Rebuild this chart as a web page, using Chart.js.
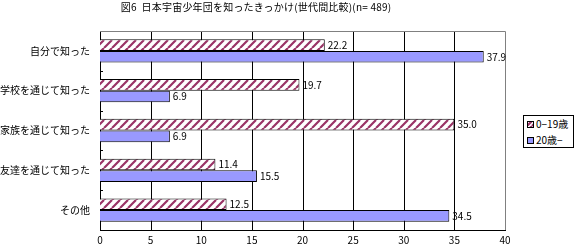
<!DOCTYPE html>
<html><head><meta charset="utf-8">
<script src="https://cdn.jsdelivr.net/npm/chart.js@4/dist/chart.umd.min.js"></script>
<style>
html,body{margin:0;padding:0;background:#fff;}
#wrap{position:relative;width:576px;height:250px;font-family:"Noto Sans CJK JP",sans-serif;}
#title{position:absolute;top:0px;left:0;width:512px;text-align:center;font-size:10px;line-height:14px;color:#000;letter-spacing:0.2px;}
#legend{position:absolute;left:523px;top:115px;width:49px;height:31px;border:1px solid #000;background:#fff;font-size:10px;color:#000;}
#legend div{position:absolute;left:3px;height:12px;line-height:12px;white-space:nowrap;}
#legend canvas{vertical-align:middle;margin-right:2px;position:relative;top:-1px;}
</style></head>
<body>
<div id="wrap">
<canvas id="c" width="576" height="250"></canvas>
<div id="title">図6&nbsp;&nbsp;日本宇宙少年団を知ったきっかけ(世代間比較)(n= 489)</div>
<div id="legend">
  <div style="top:2px"><canvas id="sw1" width="7" height="7"></canvas>0−19歳</div>
  <div style="top:18px"><canvas id="sw2" width="7" height="7"></canvas>20歳−</div>
</div>
</div>
<script>
const categories = ["自分で知った","学校を通じて知った","家族を通じて知った","友達を通じて知った","その他"];
const seriesNames = ["0−19歳","20歳−"];
const youth = [22.2, 19.7, 35.0, 11.4, 12.5];
const adult = [37.9, 6.9, 6.9, 15.5, 34.5];
const xTicks = [0,5,10,15,20,25,30,35,40];

function makeHatch(n){
  const p = document.createElement('canvas');
  p.width = n; p.height = n;
  const g = p.getContext('2d');
  g.fillStyle = '#fff'; g.fillRect(0,0,n,n);
  g.strokeStyle = '#993366'; g.lineWidth = 2.2;
  g.beginPath();
  for (let k=-n;k<=2*n;k+=n){ g.moveTo(k,n); g.lineTo(k+n,0); }
  g.stroke();
  return g.createPattern(p,'repeat');
}
const ctx = document.getElementById('c').getContext('2d');
const hatch = makeHatch(8);

(function(){
  const s1 = document.getElementById('sw1').getContext('2d');
  s1.fillStyle = makeHatch(5); s1.fillRect(0,0,7,7);
  s1.strokeStyle='#000'; s1.lineWidth=1; s1.strokeRect(0.5,0.5,6,6);
  const s2 = document.getElementById('sw2').getContext('2d');
  s2.fillStyle = '#9999FF'; s2.fillRect(0,0,7,7);
  s2.strokeStyle='#000'; s2.lineWidth=1; s2.strokeRect(0.5,0.5,6,6);
})();

const extras = {
  id:'extras',
  beforeDatasetsDraw(chart){
    const a = chart.chartArea, c = chart.ctx, x = chart.scales.x;
    c.save();
    c.strokeStyle = '#000'; c.lineWidth = 1;
    c.beginPath();
    xTicks.forEach(v => {
      if (v === 0 || v === xTicks[xTicks.length-1]) return;
      const px = Math.round(x.getPixelForValue(v)) + 0.5;
      c.moveTo(px, a.top); c.lineTo(px, a.bottom);
    });
    c.stroke();
    c.strokeStyle = '#808080';
    c.beginPath();
    const rx = Math.round(x.getPixelForValue(xTicks[xTicks.length-1])) + 0.5;
    c.moveTo(a.left, Math.floor(a.top)+0.5); c.lineTo(rx, Math.floor(a.top)+0.5);
    c.lineTo(rx, a.bottom);
    c.stroke();
    c.restore();
  },
  afterDraw(chart){
    const a = chart.chartArea, c = chart.ctx, y = chart.scales.y;
    c.save();
    c.strokeStyle = '#000'; c.lineWidth = 1;
    c.beginPath();
    for (let i=0;i<categories.length-1;i++){
      const py = Math.round((y.getPixelForValue(i)+y.getPixelForValue(i+1))/2)+0.5;
      c.moveTo(a.left, py); c.lineTo(a.left+3, py);
    }
    c.stroke();
    c.fillStyle = '#000';
    c.font = '10px "Noto Sans CJK JP", sans-serif';
    c.textBaseline = 'middle'; c.textAlign = 'left';
    chart.data.datasets.forEach((ds, di) => {
      chart.getDatasetMeta(di).data.forEach((bar, i) => {
        c.fillText(ds.data[i].toFixed(1), bar.x + 3, bar.y);
      });
    });
    c.restore();
  }
};

new Chart(ctx, {
  type:'bar',
  data:{
    labels: categories,
    datasets:[
      {label: seriesNames[0], data: youth, backgroundColor: hatch, borderColor:'#000', borderWidth:1, categoryPercentage:0.585, barPercentage:1},
      {label: seriesNames[1], data: adult, backgroundColor: '#9999FF', borderColor:'#000', borderWidth:1, categoryPercentage:0.585, barPercentage:1}
    ]
  },
  options:{
    indexAxis:'y',
    responsive:false,
    animation:false,
    layout:{padding:{top:31,right:71,left:0,bottom:0}},
    plugins:{legend:{display:false},tooltip:{enabled:false},title:{display:false}},
    scales:{
      x:{
        min:0,max:40,
        afterBuildTicks(s){ s.ticks = xTicks.map(v=>({value:v})); },
        afterFit(s){ s.height = 20; },
        grid:{display:false, drawTicks:false},
        border:{color:'#000', width:1},
        ticks:{color:'#000', padding:4, font:{family:'"Noto Sans CJK JP", sans-serif', size:10}, maxRotation:0}
      },
      y:{
        afterFit(s){ s.width = 100; },
        grid:{display:false, drawTicks:false},
        border:{color:'#000', width:1},
        ticks:{color:'#000', padding:10, font:{family:'"Noto Sans CJK JP", sans-serif', size:10}}
      }
    }
  },
  plugins:[extras]
});
</script>
</body></html>
